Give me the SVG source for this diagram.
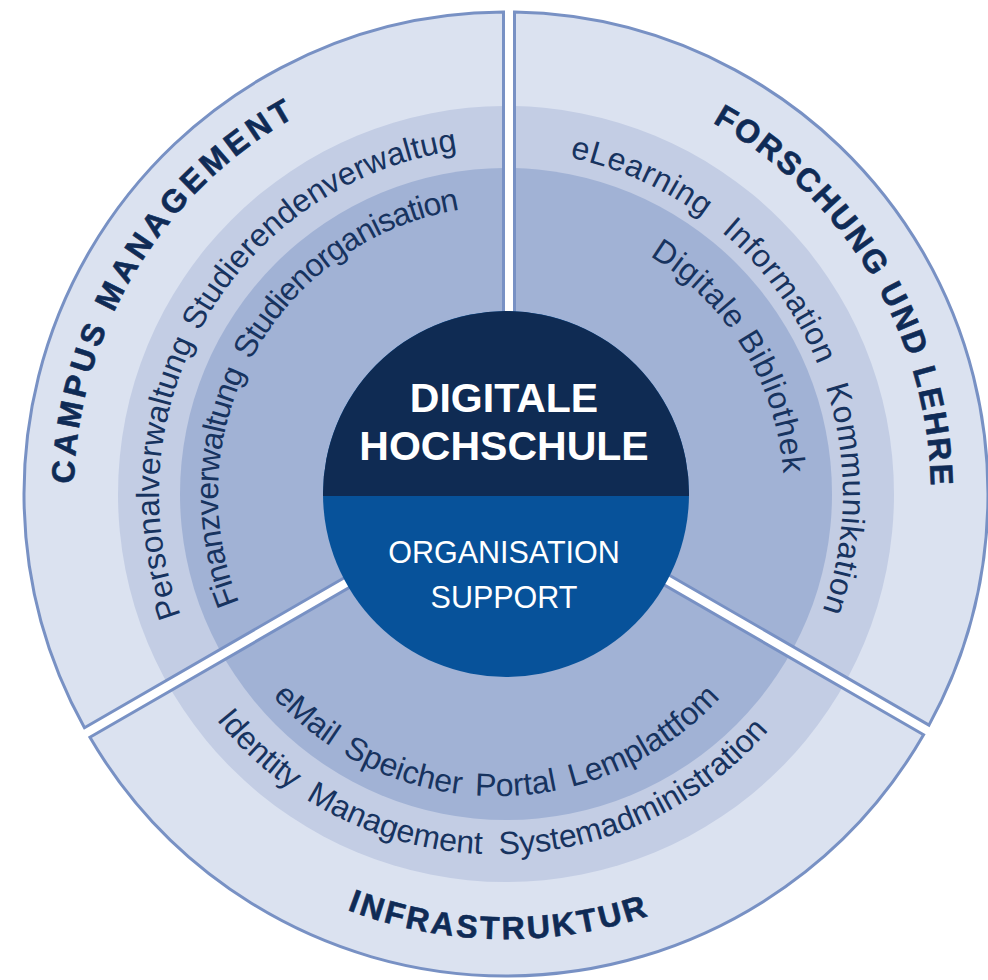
<svg xmlns="http://www.w3.org/2000/svg" width="988" height="980" viewBox="0 0 988 980">
<style>
.r1{fill:#dbe2f0}
.r2{fill:#c3cde4}
.r3{fill:#a1b2d5}
.edge{fill:none;stroke:#7891c4;stroke-width:3;stroke-linejoin:miter}
.hd{font-family:"Liberation Sans",Arial,Helvetica,sans-serif;font-weight:bold;font-size:32px;fill:#0f2b56;stroke:#0f2b56;stroke-width:0.6}
.lb{font-family:"Liberation Sans",Arial,Helvetica,sans-serif;font-size:32px;fill:#17335f}
.ct{font-family:"Liberation Sans",Arial,Helvetica,sans-serif;fill:#ffffff;text-anchor:middle}
</style>
<defs>
<path id="secA" d="M503.5,485.83 L84.48,727.75 A482,482 0 0 1 503.5,12 Z"/>
<path id="secB" d="M514.5,485.83 L514.5,12.09 A482,482 0 0 1 928.96,725.12 Z"/>
<path id="secC" d="M509,495.35 L923.58,734.71 A482,482 0 0 1 89.93,737.31 Z"/>
<clipPath id="cA"><use href="#secA"/></clipPath>
<clipPath id="cB"><use href="#secB"/></clipPath>
<clipPath id="cC"><use href="#secC"/></clipPath>
<path id="pCampus" d="M220.9,818.6 A432,432 0 0 1 662.9,91.5"/>
<path id="pForsch" d="M354.4,97 A425,425 0 0 1 784.2,815.3"/>
<path id="pInfra" d="M66.5,564 A445,445 0 0 0 942.9,578.5"/>
<path id="pPers" d="M279.5,756.9 A347,347 0 0 1 628.9,169.5"/>
<path id="pFin" d="M324,717.2 A288,288 0 0 1 600.7,222"/>
<path id="pELearn" d="M386.4,169 A344,344 0 0 1 716,760.9"/>
<path id="pDigi" d="M404.1,235.3 A278,278 0 0 1 690.2,702.2"/>
<path id="pEmail" d="M199.4,545.7 A302,302 0 0 0 794.3,547.2"/>
<path id="pIdent" d="M141.3,549.7 A360,360 0 0 0 850.3,563.3"/>
</defs>

<g id="campus-management">
<g clip-path="url(#cA)">
<circle class="r1" cx="506" cy="494" r="483"/>
<circle class="r2" cx="506" cy="494" r="388"/>
<circle class="r3" cx="506" cy="494" r="326"/>
</g>
<use href="#secA" class="edge"/>
<text class="hd" letter-spacing="4.2"><textPath href="#pCampus" startOffset="50%" text-anchor="middle">CAMPUS MANAGEMENT</textPath></text>
<text class="lb" word-spacing="3"><textPath href="#pPers" startOffset="50%" text-anchor="middle">Personalverwaltung Studierendenverwaltug</textPath></text>
<text class="lb" font-size="30" letter-spacing="-0.9" word-spacing="6"><textPath href="#pFin" startOffset="50%" text-anchor="middle">Finanzverwaltung Studienorganisation</textPath></text>
</g>

<g id="forschung-und-lehre">
<g clip-path="url(#cB)">
<circle class="r1" cx="506" cy="494" r="483"/>
<circle class="r2" cx="506" cy="494" r="388"/>
<circle class="r3" cx="506" cy="494" r="326"/>
</g>
<use href="#secB" class="edge"/>
<text class="hd" letter-spacing="2.3"><textPath href="#pForsch" startOffset="50%" text-anchor="middle">FORSCHUNG UND LEHRE</textPath></text>
<text class="lb" letter-spacing="0.6" word-spacing="13"><textPath href="#pELearn" startOffset="50%" text-anchor="middle">eLearning Information Kommunikation</textPath></text>
<text class="lb" font-size="33" letter-spacing="0.6"><textPath href="#pDigi" startOffset="50%" text-anchor="middle">Digitale Bibliothek</textPath></text>
</g>

<g id="infrastruktur">
<g clip-path="url(#cC)">
<circle class="r1" cx="506" cy="494" r="483"/>
<circle class="r2" cx="506" cy="494" r="388"/>
<circle class="r3" cx="506" cy="494" r="326"/>
</g>
<use href="#secC" class="edge"/>
<text class="hd" letter-spacing="2.8"><textPath href="#pInfra" startOffset="50%" text-anchor="middle">INFRASTRUKTUR</textPath></text>
<text class="lb" font-size="31" word-spacing="5"><textPath href="#pEmail" startOffset="50%" text-anchor="middle">eMail Speicher Portal Lemplattfom</textPath></text>
<text class="lb" font-size="33" word-spacing="8"><textPath href="#pIdent" startOffset="50%" text-anchor="middle">Identity Management Systemadministration</textPath></text>
</g>

<g id="digitale-hochschule">
<circle cx="506" cy="494" r="183" fill="#07529a"/>
<path d="M323.01,496 A183,183 0 1 1 688.99,496 Z" fill="#0f2b53"/>
<text class="ct" x="504" y="412" font-size="41" font-weight="bold">DIGITALE</text>
<text class="ct" x="504" y="460" font-size="41" font-weight="bold">HOCHSCHULE</text>
<text class="ct" x="504" y="563" font-size="30.5">ORGANISATION</text>
<text class="ct" x="504" y="608" font-size="30.5">SUPPORT</text>
</g>
</svg>
